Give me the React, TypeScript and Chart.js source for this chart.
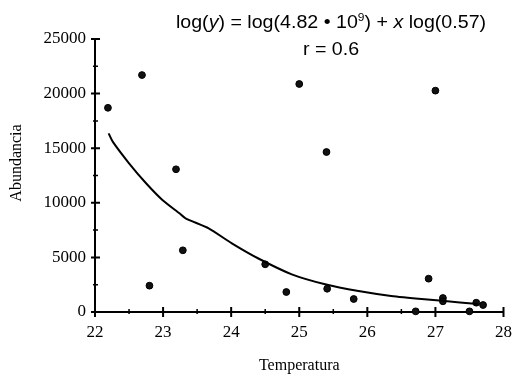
import React, { useEffect, useRef } from 'react';
import { Chart, registerables } from 'chart.js';

Chart.register(...registerables);

// Observed points
const tempX = [22.19, 22.69, 22.8, 23.19, 23.29, 24.5, 24.81, 25.0, 25.4, 25.41, 25.8, 26.71, 26.9, 27.0, 27.11, 27.11, 27.5, 27.6, 27.7];
const abundY = [18700, 21700, 2410, 13070, 5650, 4370, 1830, 20880, 14650, 2130, 1190, 60, 3050, 20270, 1280, 980, 60, 850, 640];

// Fitted curve
const fitX = [22.2, 22.26, 22.5, 22.75, 22.99, 23.24, 23.33, 23.67, 24.01, 24.4, 24.89, 25.38, 25.87, 26.35, 26.84, 27.1, 27.62];
const fitY = [16360, 15600, 13620, 11790, 10260, 9040, 8580, 7660, 6290, 4900, 3450, 2540, 1920, 1470, 1160, 1030, 730];

// Ticks
const xMajor = [22, 23, 24, 25, 26, 27, 28];
const xMinor = [22.5, 23.5, 24.5, 25.5, 26.5, 27.5];
const yMajor = [0, 5000, 10000, 15000, 20000, 25000];
const yMinor = [2500, 7500, 12500, 17500, 22500];

const xTitle = 'Temperatura';
const yTitle = 'Abundancia';
// Equation parts: [text, style]
const eqParts: [string, string][] = [
  ['log(', 'n'],
  ['y', 'i'],
  [') = log(4.82 \u2022 10', 'n'],
  ['9', 's'],
  [') + ', 'n'],
  ['x', 'i'],
  [' log(0.57)', 'n'],
];
const eqLine2 = 'r = 0.6';

const SANS = "'Liberation Sans', Arial, sans-serif";
const SERIF = "'Liberation Serif', 'Times New Roman', serif";

const fontFor = (s: string) =>
  s === 'i' ? `italic 18px ${SANS}` : s === 's' ? `11px ${SANS}` : `18px ${SANS}`;

const axisPlugin = {
  id: 'axisMarks',
  beforeDatasetsDraw(chart: any) {
    const ctx = chart.ctx as CanvasRenderingContext2D;
    const xs = chart.scales.x;
    const ys = chart.scales.y;
    const x0 = xs.getPixelForValue(xMajor[0]);
    const y0 = ys.getPixelForValue(yMajor[0]);
    ctx.save();
    ctx.strokeStyle = '#000';
    ctx.lineCap = 'butt';
    ctx.lineWidth = 2;
    ctx.beginPath();
    ctx.moveTo(x0, ys.getPixelForValue(yMajor[yMajor.length - 1]));
    ctx.lineTo(x0, y0);
    ctx.lineTo(xs.getPixelForValue(xMajor[xMajor.length - 1]), y0);
    ctx.stroke();
    ctx.beginPath();
    xMajor.forEach((v) => {
      const p = xs.getPixelForValue(v);
      ctx.moveTo(p, y0 - 5);
      ctx.lineTo(p, y0 + 5);
    });
    yMajor.forEach((v) => {
      const p = ys.getPixelForValue(v);
      ctx.moveTo(x0 - 4, p);
      ctx.lineTo(x0 + 5, p);
    });
    ctx.stroke();
    ctx.lineWidth = 1.5;
    ctx.beginPath();
    xMinor.forEach((v) => {
      const p = xs.getPixelForValue(v);
      ctx.moveTo(p, y0 - 3);
      ctx.lineTo(p, y0 + 2);
    });
    yMinor.forEach((v) => {
      const p = ys.getPixelForValue(v);
      ctx.moveTo(x0 - 2, p);
      ctx.lineTo(x0 + 3, p);
    });
    ctx.stroke();
    ctx.restore();
  },
  afterDraw(chart: any) {
    const ctx = chart.ctx as CanvasRenderingContext2D;
    ctx.save();
    // equation title
    const cx = 331;
    const stretch = 1.09;
    ctx.fillStyle = '#000';
    ctx.textBaseline = 'alphabetic';
    ctx.textAlign = 'left';
    let total = 0;
    eqParts.forEach(([t, s]) => {
      ctx.font = fontFor(s);
      total += ctx.measureText(t).width;
    });
    ctx.save();
    ctx.translate(cx, 28);
    ctx.scale(stretch, 1);
    let xp = -total / 2;
    eqParts.forEach(([t, s]) => {
      ctx.font = fontFor(s);
      ctx.fillText(t, xp, s === 's' ? -7 : 0);
      xp += ctx.measureText(t).width;
    });
    ctx.restore();
    ctx.save();
    ctx.translate(cx, 55);
    ctx.scale(stretch, 1);
    ctx.font = fontFor('n');
    ctx.textAlign = 'center';
    ctx.fillText(eqLine2, 0, 0);
    ctx.restore();
    // y axis title
    ctx.save();
    ctx.translate(17, 163);
    ctx.rotate(-Math.PI / 2);
    ctx.font = `16px ${SERIF}`;
    ctx.textAlign = 'center';
    ctx.textBaseline = 'middle';
    ctx.fillText(yTitle, 0, 0);
    ctx.restore();
    ctx.restore();
  },
};

export default function App() {
  const ref = useRef<HTMLCanvasElement | null>(null);

  useEffect(() => {
    document.body.style.margin = '0';
    const canvas = ref.current;
    if (!canvas) return;
    const chart = new Chart(canvas, {
      type: 'scatter',
      data: {
        datasets: [
          {
            label: 'fit',
            data: fitX.map((x, i) => ({ x, y: fitY[i] })),
            showLine: true,
            borderColor: '#000',
            borderWidth: 2,
            pointRadius: 0,
            tension: 0.2,
            fill: false,
          } as any,
          {
            label: 'obs',
            data: tempX.map((x, i) => ({ x, y: abundY[i] })),
            showLine: false,
            pointRadius: 3.4,
            pointBackgroundColor: '#111',
            pointBorderColor: '#000',
            pointBorderWidth: 1,
            clip: false,
          } as any,
        ],
      },
      options: {
        responsive: false,
        animation: false,
        devicePixelRatio: 1,
        layout: { padding: { top: 39, right: 16, left: 0, bottom: 0 } },
        plugins: {
          legend: { display: false },
          tooltip: { enabled: false },
          title: { display: false },
        },
        scales: {
          x: {
            type: 'linear',
            min: 22,
            max: 28,
            afterFit: (s: any) => {
              s.height = 63;
            },
            afterBuildTicks: (s: any) => {
              s.ticks = xMajor.map((v) => ({ value: v }));
            },
            grid: { display: false, drawTicks: false },
            border: { display: false },
            ticks: {
              color: '#000',
              padding: 10,
              font: { family: SERIF, size: 17 },
              maxRotation: 0,
              autoSkip: false,
            },
            title: {
              display: true,
              text: xTitle,
              color: '#000',
              font: { family: SERIF, size: 16 },
              padding: { top: 0, bottom: 0 },
            },
          },
          y: {
            type: 'linear',
            min: 0,
            max: 25000,
            afterFit: (s: any) => {
              s.width = 95;
            },
            afterBuildTicks: (s: any) => {
              s.ticks = yMajor.map((v) => ({ value: v }));
            },
            grid: { display: false, drawTicks: false },
            border: { display: false },
            ticks: {
              color: '#000',
              padding: 9,
              font: { family: SERIF, size: 17 },
              autoSkip: false,
              callback: (v: any) => String(v),
            },
            title: { display: false },
          },
        },
      },
      plugins: [axisPlugin],
    });
    return () => chart.destroy();
  }, []);

  return <canvas ref={ref} width={522} height={375} style={{ display: 'block' }} />;
}
